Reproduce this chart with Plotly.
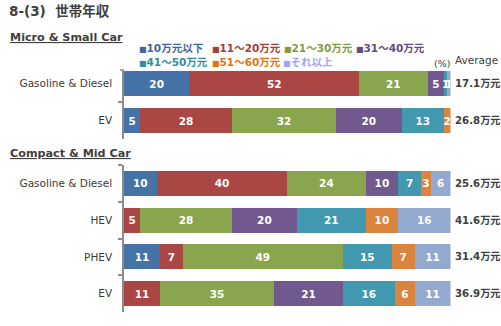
import plotly.graph_objects as go

# ---- data ----
brackets = ["10万元以下", "11～20万元", "21～30万元", "31～40万元", "41～50万元", "51～60万元", "それ以上"]
colors = ["#4572A7", "#AA4643", "#89A54E", "#71588F", "#4198AF", "#DB843D", "#93A9CF"]
legend_colors = ["#3E6699", "#A23E3B", "#7F9C45", "#5F4C80", "#348BA3", "#E5740F", "#A3A3F0"]

micro_cats = ["Gasoline & Diesel", "EV"]
micro_gas = [20, 52, 21, 5, 1, 0, 1]
micro_ev = [5, 28, 32, 20, 13, 2, 0]
micro_avg = ["17.1万元", "26.8万元"]

compact_cats = ["Gasoline & Diesel", "HEV", "PHEV", "EV"]
compact_gas = [10, 40, 24, 10, 7, 3, 6]
compact_hev = [0, 5, 28, 20, 21, 10, 16]
compact_phev = [11, 7, 49, 0, 15, 7, 11]
compact_ev = [0, 11, 35, 21, 16, 6, 11]
compact_avg = ["25.6万元", "41.6万元", "31.4万元", "36.9万元"]

micro_rows = [micro_gas, micro_ev]
compact_rows = [compact_gas, compact_hev, compact_phev, compact_ev]

W, H = 501, 326
FONT = "DejaVu Sans, Noto Sans CJK JP, sans-serif"
DARK = "#404040"

fig = go.Figure()

def add_section(rows, cats, xa, ya):
    for i, name in enumerate(brackets):
        vals = [r[i] for r in rows]
        fig.add_trace(go.Bar(
            x=vals, y=cats, orientation="h", name=name,
            marker=dict(color=colors[i], line=dict(width=0)),
            text=[str(v) if v else "" for v in vals],
            textposition="inside", insidetextanchor="middle", textangle=0,
            textfont=dict(family=FONT, size=10.5, color="white", weight="bold"),
            xaxis=xa, yaxis=ya, showlegend=False, hoverinfo="skip",
        ))

add_section(micro_rows, micro_cats, "x", "y")
add_section(compact_rows, compact_cats, "x2", "y2")

x0, x1 = 124 / W, 450.5 / W
def py(p):
    return 1 - p / H

axis_common = dict(
    type="category", showline=True, linecolor="#8C8C8C", linewidth=1.5,
    ticks="outside", ticklen=4, tickcolor="#8C8C8C", tickwidth=1.5,
    tickson="boundaries", showgrid=False, zeroline=False, automargin=False,
    tickfont=dict(family=FONT, size=10.5, color="#3A3A3A"), ticklabelstandoff=8,
)

fig.update_layout(
    width=W, height=H, margin=dict(l=0, r=0, t=0, b=0),
    paper_bgcolor="white", plot_bgcolor="white",
    barmode="stack", bargap=0.32, showlegend=False,
    uniformtext=dict(minsize=10.5, mode="show"),
    xaxis=dict(domain=[x0, x1], range=[0, 100], visible=False, anchor="y"),
    xaxis2=dict(domain=[x0, x1], range=[0, 100], visible=False, anchor="y2"),
    yaxis=dict(domain=[py(139), py(70)], range=[1.5, -0.365], anchor="x", **axis_common),
    yaxis2=dict(domain=[py(312), py(165)], range=[3.5, -0.5], anchor="x2", **axis_common),
)

ann = []
def text(x, y, s, size=10.5, color=DARK, bold=False, anchor="left"):
    ann.append(dict(
        x=x / W, y=py(y), xref="paper", yref="paper", text=s, showarrow=False,
        xanchor=anchor, yanchor="middle",
        font=dict(family=FONT, size=size, color=color, weight="bold" if bold else "normal"),
    ))

text(7, 11, "8-(3)  世帯年収", size=13.5, bold=True)
text(8, 37, "<u>Micro & Small Car</u>", size=11.2, bold=True)
text(8, 154, "<u>Compact & Mid Car</u>", size=11.2, bold=True)

# legend (text-based)
leg_pos = [(137, 48), (210, 48), (282, 48), (354, 48), (137, 62), (210, 62), (281, 62)]
for (lx, ly), name, c in zip(leg_pos, brackets, legend_colors):
    text(lx, ly, f"<span style='font-size:8px'>■</span>{name}", size=10.5, color=c, bold=True)

text(432, 63, "(%)", size=9.5)
text(453, 60, "Average", size=10.5)

for cat, a in zip(micro_cats, micro_avg):
    ann.append(dict(x=453 / W, xref="paper", y=cat, yref="y", text=a, showarrow=False,
                    xanchor="left", yanchor="middle",
                    font=dict(family=FONT, size=10.2, color=DARK, weight="bold")))
for cat, a in zip(compact_cats, compact_avg):
    ann.append(dict(x=453 / W, xref="paper", y=cat, yref="y2", text=a, showarrow=False,
                    xanchor="left", yanchor="middle",
                    font=dict(family=FONT, size=10.2, color=DARK, weight="bold")))

fig.update_layout(annotations=ann)

# top end tick of the micro axis
fig.add_shape(type="line", xref="paper", yref="paper", x0=120 / W, x1=124 / W,
              y0=py(70), y1=py(70), line=dict(color="#8C8C8C", width=1.5))

fig.write_html("out.html")
